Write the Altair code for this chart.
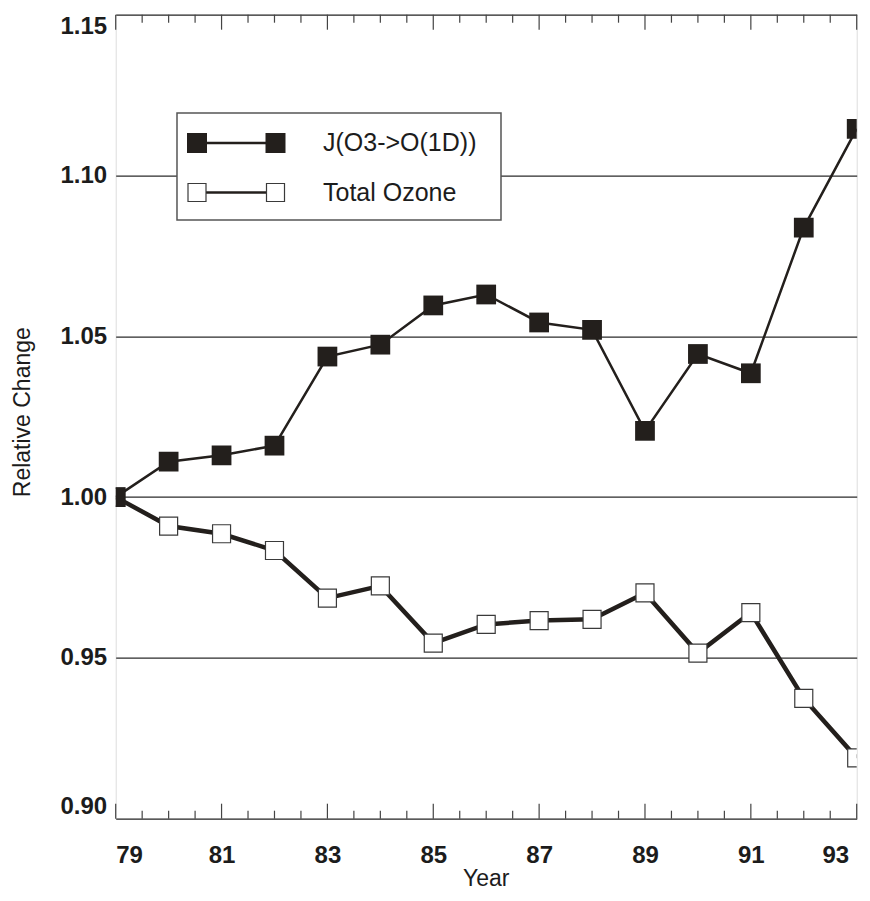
import altair as alt
import pandas as pd

# ---------------- data ----------------
years = [79, 80, 81, 82, 83, 84, 85, 86, 87, 88, 89, 90, 91, 92, 93]
j_o1d = [1.000, 1.011, 1.013, 1.016, 1.0437, 1.0474, 1.0596, 1.063,
         1.0543, 1.052, 1.0206, 1.0445, 1.0385, 1.0838, 1.1145]
total_ozone = [1.000, 0.991, 0.9886, 0.9834, 0.9686, 0.9724, 0.9546, 0.9604,
               0.9616, 0.962, 0.9702, 0.9515, 0.9641, 0.9374, 0.9189]
series_names = ["J(O3->O(1D))", "Total Ozone"]

x_label_values = [79, 81, 83, 85, 87, 89, 91, 93]
y_label_values = [0.90, 0.95, 1.00, 1.05, 1.10, 1.15]
major_ticks = [79, 81, 83, 85, 87, 89, 91, 93]
minor_ticks = [y + d for y in range(79, 93, 2) for d in (0.5, 1.0, 1.5)]

# ---------------- styling ----------------
W, H = 741, 804
FONT = "Liberation Sans"
INK = "#231f1c"
TXT = "#1c1c1c"

df = pd.DataFrame({"year": years, "j": j_o1d, "oz": total_ozone})
one = pd.DataFrame({"k": [0]})

xs = alt.Scale(domain=[79, 93], nice=False, zero=False)
ys = alt.Scale(domain=[0.90, 1.15], nice=False, zero=False)

xax = alt.Axis(values=x_label_values, title="Year", grid=False, ticks=False,
               domain=False, labelFont=FONT, labelFontSize=24,
               labelFontWeight="bold", labelColor=TXT, labelPadding=25,
               labelOffset={"condition": {"test": "datum.value >= 93", "value": -8},
                            "value": 0},
               titleFont=FONT, titleFontSize=23, titleFontWeight="normal",
               titleColor=TXT, titleX=370, titleY=67,
               titleBaseline="alphabetic", titleAlign="center")
yax = alt.Axis(values=y_label_values, format=".2f", title="Relative Change",
               grid=True, gridColor="#2b2b2b", gridWidth=1.3, ticks=False,
               domain=False, labelFlush=True, labelFont=FONT, labelFontSize=24,
               labelFontWeight="bold", labelColor=TXT, labelPadding=9,
               titleFont=FONT, titleFontSize=23, titleFontWeight="normal",
               titleColor=TXT, titleAngle=270, titleX=-104, titleY=397,
               titleBaseline="top", titleAlign="center")

X = alt.X("year:Q", scale=xs, axis=xax)

oz_line = alt.Chart(df).mark_line(color=INK, strokeWidth=4.5, clip=True).encode(
    x=X, y=alt.Y("oz:Q", scale=ys, axis=yax))
oz_pts = alt.Chart(df).mark_point(shape="square", filled=True, fill="white",
                                  stroke="#3a3a3a", strokeWidth=1.2, size=324,
                                  opacity=1, clip=True).encode(
    x=X, y=alt.Y("oz:Q", scale=ys, axis=yax))
j_line = alt.Chart(df).mark_line(color=INK, strokeWidth=2.5, clip=True).encode(
    x=X, y=alt.Y("j:Q", scale=ys, axis=yax))
j_pts = alt.Chart(df).mark_point(shape="square", filled=True, color=INK,
                                 size=390, opacity=1, clip=True).encode(
    x=X, y=alt.Y("j:Q", scale=ys, axis=yax))

# inward ticks on bottom and top edges
def tick_layer(vals, y0, y1):
    return alt.Chart(pd.DataFrame({"t": vals})).mark_rule(
        color="#444", strokeWidth=1.2).encode(
        x=alt.X("t:Q", scale=xs, axis=xax), y=alt.value(y0), y2=alt.value(y1))

ticks = [tick_layer(major_ticks, H, H - 15), tick_layer(minor_ticks, H, H - 8),
         tick_layer(major_ticks, 0, 15), tick_layer(minor_ticks, 0, 8)]

# legend drawn by hand (box, line between two markers, label)
box = alt.Chart(one).mark_rect(fill="white", stroke="#555", strokeWidth=1.5).encode(
    x=alt.value(61.3), x2=alt.value(385.3), y=alt.value(98.3), y2=alt.value(205.3))

def legend_row(yv, filled, label):
    rule = alt.Chart(one).mark_rule(color=INK, strokeWidth=2.3).encode(
        x=alt.value(81.3), x2=alt.value(159.8), y=alt.value(yv))
    if filled:
        kw = dict(shape="square", filled=True, color=INK, size=400, opacity=1)
    else:
        kw = dict(shape="square", filled=True, fill="white", stroke="#3a3a3a",
                  strokeWidth=1.2, size=324, opacity=1)
    m1 = alt.Chart(one).mark_point(**kw).encode(x=alt.value(81.3), y=alt.value(yv))
    m2 = alt.Chart(one).mark_point(**kw).encode(x=alt.value(159.8), y=alt.value(yv))
    txt = alt.Chart(one).mark_text(align="left", baseline="middle", font=FONT,
                                   fontSize=25, color=TXT).encode(
        x=alt.value(207.3), y=alt.value(yv), text=alt.value(label))
    return [rule, m1, m2, txt]

legend = [box] + legend_row(128.3, True, series_names[0]) + \
    legend_row(177.8, False, series_names[1])

chart = alt.layer(oz_line, oz_pts, j_line, j_pts, *ticks, *legend).properties(
    width=W, height=H,
    padding={"left": 107.7, "top": 6.7, "right": 5.3, "bottom": 74.3},
    autosize=alt.AutoSizeParams(type="none"),
).configure_view(stroke="#444", strokeWidth=1.5).configure(background="white")

chart.save("out.html", embed_options={"renderer": "svg", "actions": False})
